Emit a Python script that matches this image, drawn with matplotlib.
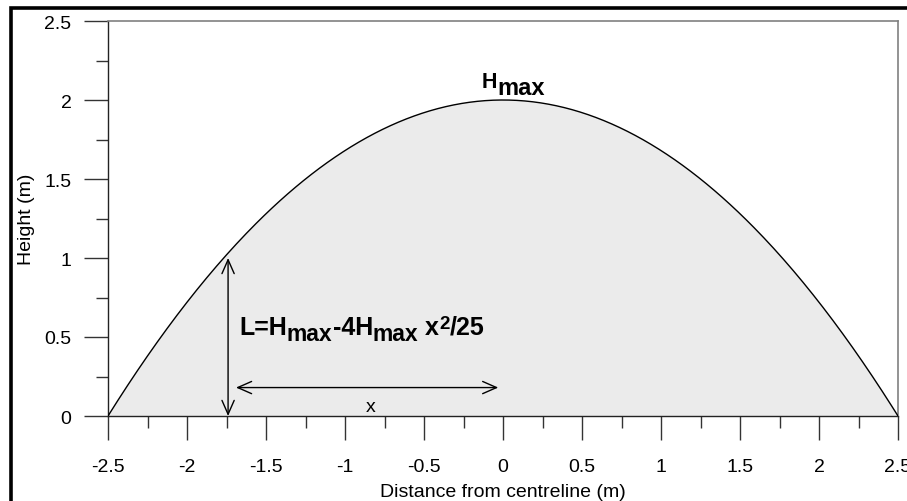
import numpy as np
import matplotlib
matplotlib.use("Agg")
import matplotlib.pyplot as plt
from matplotlib.patches import Rectangle
from matplotlib.ticker import MultipleLocator, FixedLocator
from matplotlib.transforms import ScaledTranslation

plt.rcParams['font.family'] = ['Liberation Sans', 'DejaVu Sans']

# Parabolic profile: L = Hmax - 4 Hmax x^2 / 25
h_max = 2.0
half_width = 2.5
x = np.linspace(-half_width, half_width, 401)
height = h_max - 4 * h_max * x**2 / 25

x_ticks = [-2.5, -2, -1.5, -1, -0.5, 0, 0.5, 1, 1.5, 2, 2.5]
x_tick_labels = ['-2.5', '-2', '-1.5', '-1', '-0.5', '0', '0.5', '1', '1.5', '2', '2.5']
y_ticks = [0, 0.5, 1, 1.5, 2, 2.5]
y_tick_labels = ['0', '0.5', '1', '1.5', '2', '2.5']

# annotation geometry (data units)
vert_arrow_x = -1.74
vert_arrow_top = 1.0
horiz_arrow_y = 0.18
horiz_arrow_x = (-1.69, -0.03)

fig = plt.figure(figsize=(9.07, 5.02), dpi=100)
ax = fig.add_axes([108 / 907, 1 - 417 / 502, 790 / 907, 395 / 502])

ax.fill_between(x, 0, height, facecolor='#ebebeb', edgecolor='none', zorder=1)
ax.plot(x, height, color='black', lw=1.0, zorder=3)

ax.set_xlim(-2.5, 2.5)
ax.set_ylim(0, 2.5)

ax.xaxis.set_major_locator(FixedLocator(x_ticks))
ax.set_xticklabels(x_tick_labels)
ax.yaxis.set_major_locator(FixedLocator(y_ticks))
ax.set_yticklabels(y_tick_labels)
ax.xaxis.set_minor_locator(MultipleLocator(0.25))
ax.yaxis.set_minor_locator(MultipleLocator(0.25))

ax.tick_params(which='major', direction='out', length=17.3, width=1.0,
               color='#333333', labelsize=14)
ax.tick_params(which='minor', direction='out', length=8.6, width=1.0,
               color='#333333')
ax.tick_params(axis='x', which='major', pad=13)
ax.tick_params(axis='y', which='major', pad=9)

for s in ('left', 'bottom'):
    ax.spines[s].set_color('#222222')
    ax.spines[s].set_linewidth(1.0)
for s in ('top', 'right'):
    ax.spines[s].set_color('#808080')
    ax.spines[s].set_linewidth(1.2)

ax.set_xlabel('Distance from centreline (m)', fontsize=14, labelpad=6)
ax.set_ylabel('Height (m)', fontsize=14, labelpad=7)

# arrows
arrow_style = '<->,head_length=0.5,head_width=0.22'
ax.annotate('', xy=(vert_arrow_x, vert_arrow_top), xytext=(vert_arrow_x, 0),
            arrowprops=dict(arrowstyle=arrow_style, mutation_scale=20,
                            color='black', lw=1.0, shrinkA=0, shrinkB=0),
            zorder=4)
ax.annotate('', xy=(horiz_arrow_x[1], horiz_arrow_y),
            xytext=(horiz_arrow_x[0], horiz_arrow_y),
            arrowprops=dict(arrowstyle=arrow_style, mutation_scale=20,
                            color='black', lw=1.0, shrinkA=0, shrinkB=0),
            zorder=4)

ax.text(-0.835, 0.063, 'x', fontsize=14, ha='center', va='center', zorder=5)


def rich_text(x0, y0, pieces):
    """Lay out (text, fontsize, baseline shift in px) pieces left to right."""
    fig.canvas.draw()
    renderer = fig.canvas.get_renderer()
    dx = 0.0
    for s, size, shift in pieces:
        off = ScaledTranslation(dx / fig.dpi, shift / fig.dpi, fig.dpi_scale_trans)
        t = ax.text(x0, y0, s, fontsize=size, fontweight='bold', ha='left',
                    va='baseline', transform=ax.transData + off, zorder=5)
        bb = t.get_window_extent(renderer)
        dx += bb.width


rich_text(-1.67, 0.519, [('L=H', 18, 0), ('max', 16.5, -6), ('-4H', 18, 0),
                         ('max', 16.5, -6), (' x', 18, 0), ('2', 13.5, 6),
                         ('/25', 18, 0)])
rich_text(-0.133, 2.082, [('H', 15.5, 0), ('max', 17, -7)])

# outer frame
fig.patches.append(Rectangle((11 / 907, -0.2), 1.2, 0.2 + 1 - 9 / 502,
                             transform=fig.transFigure, fill=False,
                             edgecolor='black', lw=2.6, clip_on=False))

fig.savefig('out.png', dpi=100)
